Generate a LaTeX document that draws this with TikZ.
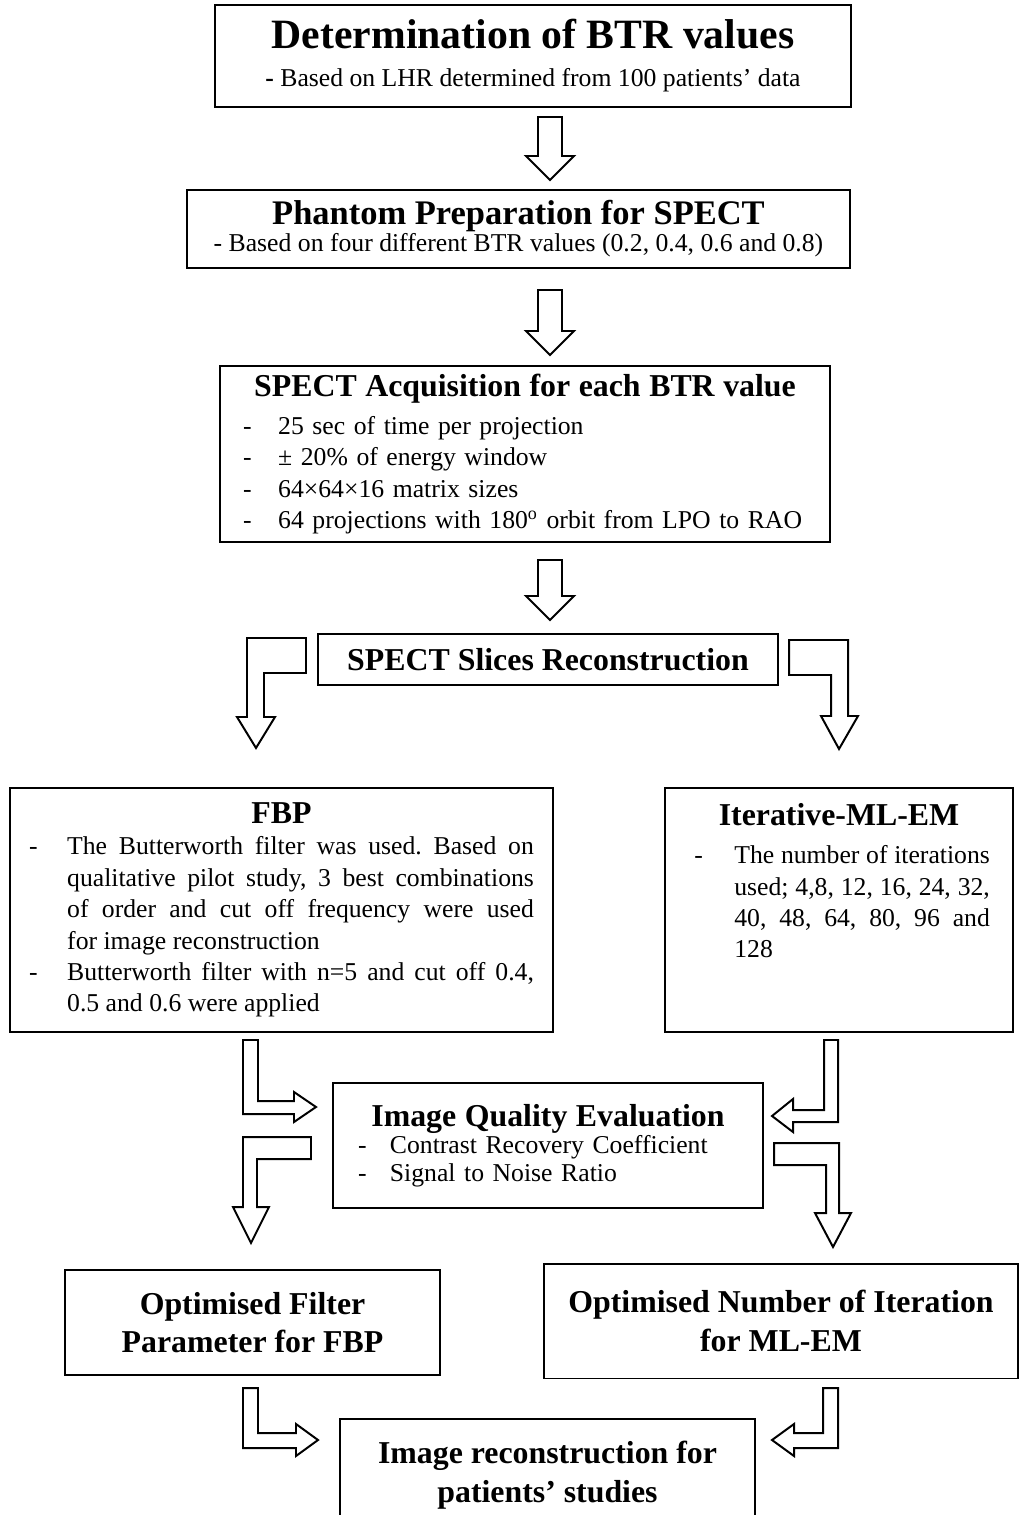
\documentclass[tikz,border=0pt]{standalone}
\usepackage{fontspec}
\setmainfont{Liberation Serif}
\usetikzlibrary{positioning}
\usetikzlibrary{calc}

\newcommand{\ttl}[2][14.5]{{\fontsize{#1}{17.5}\selectfont\bfseries #2}}
\newcommand{\bitem}[2][0.56cm]{\par\noindent\hangindent=#1\hangafter=1\makebox[#1][l]{-}#2\par}

\tikzset{
  box/.style={draw, line width=0.9pt, inner sep=3pt, font=\fontsize{11.7}{14.3}\selectfont\frenchspacing},
  ttlbox/.style={box, align=center, font=\fontsize{14.5}{17.5}\selectfont\bfseries},
  blk/.style={draw, line width=0.9pt, fill=white, line join=miter},
  pics/dnarrow/.style={code={
    \draw[blk] (-12,0) -- (12,0) -- (12,#1-24) -- (24,#1-24) -- (0,#1)
      -- (-24,#1-24) -- (-12,#1-24) -- cycle;
  }}
}

\begin{document}
\begin{tikzpicture}[x=0.016cm, y=-0.016cm]
  \useasboundingbox (0,0) rectangle (1021,1515);
  \clip (0,0) rectangle (1021,1515);

  % main column
  \node[box, align=center, minimum width=10.18cm, minimum height=1.63cm] (btr) at (533,56)
    {\ttl[19]{Determination of BTR values}\\[3pt]
     {\bfseries -} Based on LHR determined from 100 patients' data};
  \node[box, align=center, minimum width=10.61cm, minimum height=1.25cm] (phantom) at (518.5,229)
    {\ttl[15.7]{Phantom Preparation for SPECT}\\[-2pt]
     - Based on four different BTR values (0.2, 0.4, 0.6 and 0.8)};
  \node[box, align=left, text width=9.02cm, minimum width=9.76cm, minimum height=2.82cm] (acq) at (525,454)
    {{\centering\ttl{SPECT Acquisition for each BTR value}\par}\vspace{3pt}
     \bitem{25 sec of time per projection}
     \bitem{± 20\% of energy window}
     \bitem{64×64×16 matrix sizes}
     \bitem{64 projections with 180\textsuperscript{o} orbit from LPO to RAO}};
  \node[ttlbox, minimum width=7.36cm, minimum height=0.82cm] (slices) at (548,659.5)
    {SPECT Slices Reconstruction};

  % two methods
  \node[box, align=justify, text width=8.08cm, minimum width=8.69cm, minimum height=3.9cm] (fbp) at (281.5,910)
    {{\centering\ttl{FBP}\par}
     \bitem[0.61cm]{The Butterworth filter was used. Based on\linebreak
       qualitative pilot study, 3 best combinations\linebreak
       of order and cut off frequency were used\linebreak
       for image reconstruction}
     \bitem[0.61cm]{Butterworth filter with n=5 and cut off 0.4,\linebreak
       0.5 and 0.6 were applied}};
  \node[box, align=justify, text width=4.83cm, minimum width=5.57cm, minimum height=3.9cm] (mlem) at (839,910)
    {{\centering\ttl{Iterative-ML-EM}\par}\vspace{3pt}
     \leftskip=0.1cm
     \bitem[0.64cm]{The number of iterations\linebreak
       used; 4,8, 12, 16, 24, 32,\linebreak
       40, 48, 64, 80, 96 and\linebreak
       128}
     \rule{0pt}{0.9cm}};

  \node[box, align=left, text width=6.08cm, minimum width=6.88cm, minimum height=2cm,
        font=\fontsize{11.7}{12.5}\selectfont] (iqe) at (548,1145.5)
    {{\centering\ttl{Image Quality Evaluation}\par}
     \bitem[0.51cm]{Contrast Recovery Coefficient}
     \bitem[0.51cm]{Signal to Noise Ratio}};

  \node[ttlbox, minimum width=6cm, minimum height=1.68cm] (optf) at (252.5,1322.5)
    {Optimised Filter\\ Parameter for FBP};
  \node[ttlbox, minimum width=7.58cm, minimum height=1.84cm] (opti) at (781,1321)
    {Optimised Number of Iteration\\ for ML-EM};
  \node[ttlbox, minimum width=6.64cm, minimum height=1.79cm] (recon) at (547.5,1475)
    {Image reconstruction for\\ patients' studies};

  % straight block arrows
  \pic at (550,117) {dnarrow=63};
  \pic at (550,290) {dnarrow=65};
  \pic at (550,560) {dnarrow=60};

  % bent block arrows, upper split
  \draw[blk] (247,638) -- (306,638) -- (306,673) -- (264,673) -- (264,717) -- (275,717)
    -- (256,748) -- (237,717) -- (247,717) -- cycle;
  \draw[blk] (789,640) -- (848,640) -- (848,716) -- (858,716) -- (839,749) -- (821,716)
    -- (831,716) -- (831,675) -- (789,675) -- cycle;

  % into and out of evaluation
  \draw[blk] (243,1040) -- (258,1040) -- (258,1101) -- (294,1101) -- (294,1092) -- (316,1107)
    -- (294,1122) -- (294,1114) -- (243,1114) -- cycle;
  \draw[blk] (243,1137) -- (311,1137) -- (311,1159) -- (257,1159) -- (257,1207) -- (269,1207)
    -- (251,1243) -- (233,1207) -- (243,1207) -- cycle;
  \draw[blk] (838,1040) -- (824,1040) -- (824,1110) -- (793,1110) -- (793,1099) -- (772,1116)
    -- (793,1132) -- (793,1122) -- (838,1122) -- cycle;
  \draw[blk] (774,1143) -- (839,1143) -- (839,1213) -- (851,1213) -- (833,1247) -- (815,1213)
    -- (826,1213) -- (826,1165) -- (774,1165) -- cycle;

  % into final box
  \draw[blk] (243,1388) -- (258,1388) -- (258,1433) -- (296,1433) -- (296,1424) -- (318,1440)
    -- (296,1456) -- (296,1448) -- (243,1448) -- cycle;
  \draw[blk] (838,1388) -- (823,1388) -- (823,1433) -- (794,1433) -- (794,1424) -- (772,1440)
    -- (794,1456) -- (794,1448) -- (838,1448) -- cycle;
\end{tikzpicture}
\end{document}
